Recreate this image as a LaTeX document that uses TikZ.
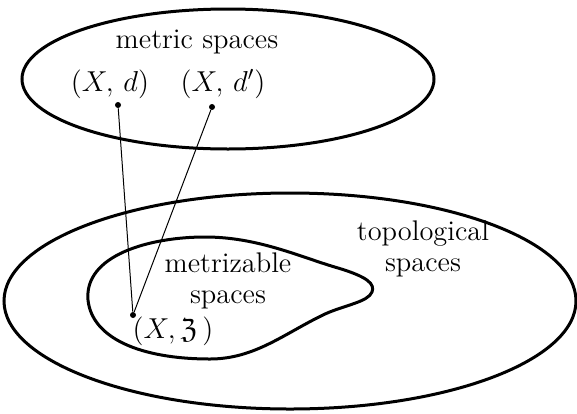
\documentclass[tikz,border=0pt]{standalone}
\usepackage{amsmath,amssymb}
\usepackage{tikz}
\usetikzlibrary{positioning}
\tikzset{
  region/.style={draw=black, line width=1.5pt},
  joint/.style={line width=0.5pt},
  pt/.style={circle, fill=black, inner sep=0pt, minimum size=3pt},
  lab/.style={font=\fontsize{14.2}{15.5}\selectfont, align=center, inner sep=0pt},
}
\begin{document}
\begin{tikzpicture}[x=0.5pt, y=-0.5pt]
  \useasboundingbox (0,0) rectangle (577,413);
  % the three regions
  \draw[region] (228,79) ellipse [x radius=206, y radius=70];
  \draw[region] (290,301) ellipse [x radius=286, y radius=108];
  \draw[region] (88,300) .. controls (84,255) and (150,237) .. (205,237)
    .. controls (258,237) and (300,257) .. (338,268)
    .. controls (368,277) and (375,284) .. (372,292)
    .. controls (368,302) and (345,305) .. (325,314)
    .. controls (285,333) and (255,359) .. (210,359)
    .. controls (140,359) and (92,338) .. cycle;
  % labels
  \node[lab] (metric) at (197,42) {metric spaces};
  \node[lab] (xd) at (110,84) {$(X,\,d)$};
  \node[lab] (xdd) at (223,84) {$(X,\,d')$};
  \node[lab] (topo) at (423,249) {topological\\spaces};
  \node[lab] (metz) at (228,281) {metrizable\\spaces};
  \node[lab] (xt) at (173,331) {$(X,\mathfrak{Z}\,)$};
  % points and joins
  \node[pt] (pd) at (118,105) {};
  \node[pt] (pdd) at (212,107) {};
  \node[pt] (pt3) at (133,315) {};
  \draw[joint] (pd) -- (pt3);
  \draw[joint] (pdd) -- (pt3);
\end{tikzpicture}
\end{document}
